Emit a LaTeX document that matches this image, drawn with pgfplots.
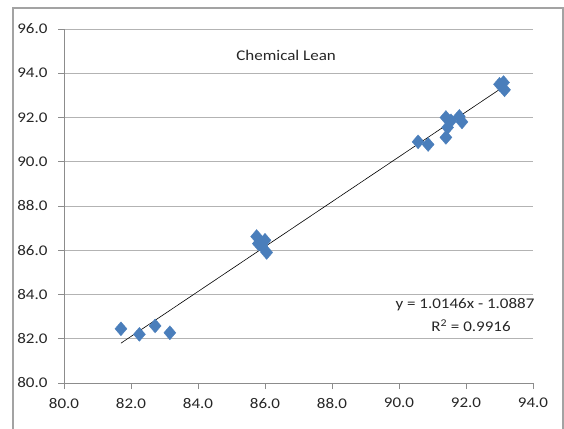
\documentclass[border=0pt]{standalone}
\usepackage{pgfplots}
\pgfplotsset{compat=1.18}
\usepackage{fontspec}
\setmainfont{Carlito}
\definecolor{ptblue}{HTML}{4A7EBB}
\definecolor{gridgray}{HTML}{B3B3B3}
\definecolor{axgray}{HTML}{8C8C8C}
\newcommand{\cfont}{\fontsize{17bp}{20bp}\selectfont}
\begin{document}
\begin{tikzpicture}[x=1bp,y=1bp]
\clip (0,0) rectangle (564,428);
\useasboundingbox (0,0) rectangle (564,428);
\draw[color=axgray!80, line width=1.2bp] (13,-20) -- (13,420) -- (563,420) -- (563,-20);
\begin{axis}[
  at={(64bp,45bp)}, anchor=south west,
  scale only axis, width=469bp, height=354bp,
  xmin=80, xmax=94, ymin=80, ymax=96,
  xtick={80,82,...,94}, ytick={80,82,...,96},
  /pgf/number format/fixed, /pgf/number format/fixed zerofill, /pgf/number format/precision=1,
  /pgf/number format/assume math mode=true,
  ticklabel style={font=\cfont, text=black!85, yscale=0.87},
  axis x line*=bottom, axis y line*=left,
  axis line style={color=axgray, line width=0.8bp, -},
  tick style={color=axgray, line width=0.8bp},
  tick align=outside, major tick length=6bp,
  ymajorgrids, grid style={color=gridgray, line width=0.8bp},
  xticklabel style={yshift=-7bp},
  yticklabel style={xshift=-7bp},
  clip=false,
]
\addplot[only marks, mark=diamond*, mark size=7bp, mark options={fill=ptblue, draw=ptblue, line width=0.3bp, xscale=1.15}] coordinates {
(81.70,82.45) (82.25,82.20) (82.72,82.58) (83.16,82.27)
(85.75,86.62) (85.80,86.30) (86.00,86.45) (86.05,85.90) (85.90,86.20)
(90.57,90.90) (90.87,90.78) (91.40,92.00) (91.45,91.55) (91.40,91.10)
(91.80,92.05) (91.88,91.80) (91.55,91.85)
(93.00,93.50) (93.12,93.58) (93.15,93.25)
};
\addplot[black, line width=0.6bp] coordinates {(81.70,81.80) (93.18,93.45)};
\node[font=\cfont, text=black!85, yscale=0.87] at (axis cs:86.63,94.82) {Chemical Lean};
\node[font=\cfont, text=black!85, yscale=0.87] at (axis cs:91.97,83.53) {y = 1.0146x - 1.0887};
\node[font=\cfont, text=black!85, yscale=0.87] at (axis cs:92.15,82.58) {R\textsuperscript{2} = 0.9916};
\end{axis}
\end{tikzpicture}
\end{document}
